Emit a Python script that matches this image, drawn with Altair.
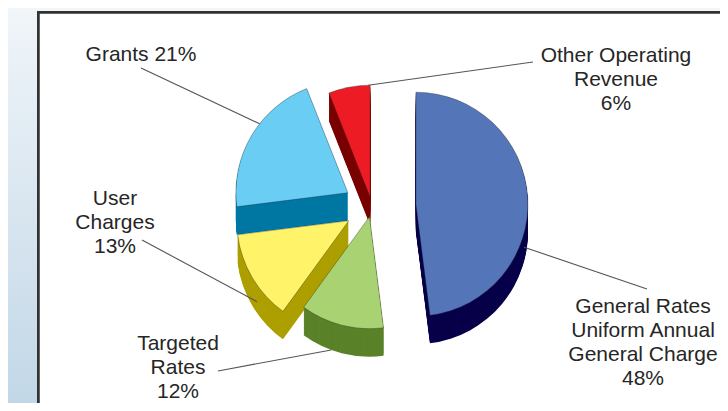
import math
import altair as alt
import pandas as pd

# ---------------- data ----------------
categories = [
    "General Rates Uniform Annual General Charge",
    "Targeted Rates",
    "User Charges",
    "Grants",
    "Other Operating Revenue",
]
label_names = [
    "General Rates\nUniform Annual\nGeneral Charge",
    "Targeted\nRates",
    "User\nCharges",
    "Grants",
    "Other Operating\nRevenue",
]
shares = [48, 12, 13, 21, 6]

# ---------------- styles / layout ----------------
top_colors = ["#5575b9", "#a9d273", "#fff36a", "#69cdf4", "#ed1c24"]
side_colors = ["#08004a", "#5a8229", "#ae9f00", "#0077a3", "#7a0000"]
label_sep = ["\n", "\n", "\n", " ", "\n"]

W, H = 712, 395
OFF = -8                      # reference pixel -> chart pixel
CX, CY = 372 + OFF, 207 + OFF  # pie centre
R = 112
DEPTH = 28
explode = [44, 10, 27, 28, 10]

# label anchor (centre x, first baseline y) in reference pixels
label_pos = [(643, 313), (178, 350), (115, 205), (141, 61), (616, 62)]
# leader line start near label (reference pixels)
leader_label_end = [(647, 289), (218, 371), (142, 240), (141, 68), (533, 62)]
# where the leader touches the slice: (angle deg, depth fraction)
leader_anchor = [(105, 0.5), (200, 1.0), (235, 0.6), (308, 0.0), (359, 0.0)]

# ---------------- build tables ----------------
total = float(sum(shares))
rows, lab_rows, line_rows = [], [], []
acc = 0.0
for i, (cat, v) in enumerate(zip(categories, shares)):
    t0 = 2 * math.pi * acc / total
    t1 = 2 * math.pi * (acc + v) / total
    mid = (t0 + t1) / 2
    cx = CX + explode[i] * math.sin(mid)
    cy = CY - explode[i] * math.cos(mid)
    rows.append(dict(category=cat, share=v, t0=t0, t1=t1, cx=cx, cy=cy,
                     top=top_colors[i], side=side_colors[i]))
    lx, ly = label_pos[i]
    lab_rows.append(dict(category=cat, x=lx + OFF, y=ly + OFF,
                         text=f"{label_names[i]}{label_sep[i]}{v}%"))
    a = math.radians(leader_anchor[i][0])
    px = cx + R * math.sin(a)
    py = cy - R * math.cos(a) + DEPTH * leader_anchor[i][1]
    ex, ey = leader_label_end[i]
    line_rows.append(dict(category=cat, x=ex + OFF, y=ey + OFF, x2=px, y2=py))
    acc += v

pie = pd.DataFrame(rows)
labels = pd.DataFrame(lab_rows)
leaders = pd.DataFrame(line_rows)


def arc_layer(fill_field, dy, stroke=False):
    props = dict(radius=R, yOffset=dy)
    if stroke:
        props.update(stroke="#1a1a1a", strokeWidth=0.6, strokeOpacity=0.55)
    return alt.Chart(pie).mark_arc(**props).encode(
        x=alt.X("cx:Q", scale=None, axis=None),
        y=alt.Y("cy:Q", scale=None, axis=None),
        theta=alt.Theta("t0:Q", scale=None),
        theta2="t1:Q",
        fill=alt.Fill(f"{fill_field}:N", scale=None, legend=None),
    )


# background pieces
bg_strip = alt.Chart(pie).mark_rect(
    fill=alt.Gradient(
        gradient="linear",
        stops=[alt.GradientStop(color="#f0f5f9", offset=0),
               alt.GradientStop(color="#c2d7e7", offset=1)],
        x1=0, x2=0, y1=0, y2=1,
    )
).encode(x=alt.value(0), x2=alt.value(30), y=alt.value(0), y2=alt.value(H))

top_strip = alt.Chart(pie).mark_rect(fill="#f2f6f9").encode(
    x=alt.value(0), x2=alt.value(W), y=alt.value(0), y2=alt.value(4))

frame = alt.Chart(pie).mark_rect(fill="white", stroke="#333333", strokeWidth=2.5).encode(
    x=alt.value(30.5), x2=alt.value(W + 30), y=alt.value(4.5), y2=alt.value(H + 30))

layers = [bg_strip, top_strip, frame]
for k in range(DEPTH, 0, -1):
    layers.append(arc_layer("side", k))
layers.append(arc_layer("top", 0, stroke=True))

leader = alt.Chart(leaders).mark_rule(color="#555555", strokeWidth=1.1).encode(
    x=alt.X("x:Q", scale=None, axis=None),
    y=alt.Y("y:Q", scale=None, axis=None),
    x2="x2:Q",
    y2="y2:Q",
)
text = alt.Chart(labels).mark_text(
    align="center", baseline="alphabetic", fontSize=21, lineHeight=24,
    lineBreak="\n", font="Liberation Sans", color="#262626",
).encode(
    x=alt.X("x:Q", scale=None, axis=None),
    y=alt.Y("y:Q", scale=None, axis=None),
    text="text:N",
)
layers += [leader, text]

chart = alt.layer(*layers).properties(
    width=W, height=H, padding=0, autosize="none"
).configure_view(strokeWidth=0)

chart.save("out.html", embed_options={"renderer": "svg", "actions": False})
